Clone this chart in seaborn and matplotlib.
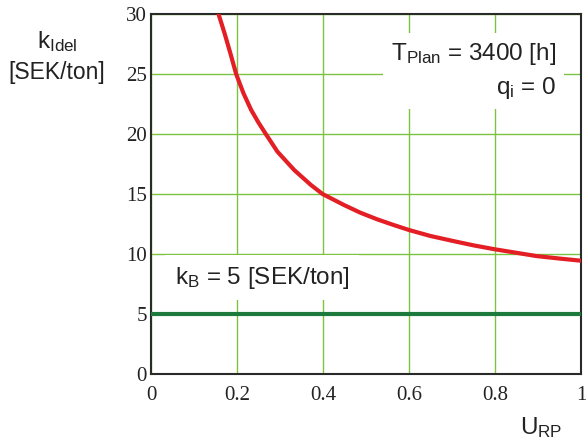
import matplotlib
matplotlib.use('Agg')
import matplotlib.pyplot as plt
import seaborn as sns
import pandas as pd

# ---------- data ----------
u_rp = [0.157, 0.171, 0.184, 0.198, 0.215, 0.233, 0.25, 0.267, 0.294, 0.333,
        0.372, 0.399, 0.449, 0.487, 0.526, 0.564, 0.6, 0.65, 0.703, 0.75,
        0.8, 0.85, 0.896, 0.95, 1.0]
k_idel = [30.0, 28.4, 26.8, 25.0, 23.4, 22.0, 20.95, 20.0, 18.53, 17.0,
          15.75, 15.0, 14.08, 13.44, 12.89, 12.42, 12.0, 11.5, 11.08, 10.72,
          10.39, 10.1, 9.83, 9.62, 9.44]
u_base = [0.0, 1.0]
k_base = [5.0, 5.0]

x_ticks = [0, 0.2, 0.4, 0.6, 0.8, 1]
x_ticklabels = ['0', '0.2', '0.4', '0.6', '0.8', '1']
y_ticks = [0, 5, 10, 15, 20, 25, 30]

sns.set_style('white')
plt.rcParams['font.family'] = ['Liberation Sans', 'DejaVu Sans']
plt.rcParams['mathtext.fontset'] = 'custom'
plt.rcParams['mathtext.rm'] = 'Liberation Sans'
plt.rcParams['mathtext.it'] = 'Liberation Sans:italic'

df_curve = pd.DataFrame({'U': u_rp, 'k': k_idel})
df_base = pd.DataFrame({'U': u_base, 'k': k_base})

fig = plt.figure(figsize=(5.86, 4.45), dpi=100)
ax = fig.add_axes([151 / 586, 1 - 374 / 445, 430 / 586, 360 / 445])

sns.lineplot(data=df_base, x='U', y='k', color='#1b7a3c', linewidth=3.0, ax=ax, zorder=4)
sns.lineplot(data=df_curve, x='U', y='k', color='#e31e24', linewidth=3.0, ax=ax, zorder=5)

ax.set_xlim(0, 1)
ax.set_ylim(0, 30)
ax.set_xticks(x_ticks)
ax.set_xticklabels(x_ticklabels)
ax.set_yticks(y_ticks)
ax.grid(True, color='#7dc242', linewidth=1.0)
ax.set_axisbelow(True)
ax.set_xlabel('')
ax.set_ylabel('')

for lab in ax.get_xticklabels() + ax.get_yticklabels():
    lab.set_fontfamily('Liberation Serif')
    lab.set_fontsize(15)
    lab.set_color('#222222')
ax.tick_params(axis='x', length=0, pad=9)
ax.tick_params(axis='y', length=0, pad=3)

for sp in ax.spines.values():
    sp.set_color('#2a2a2a')
    sp.set_linewidth(1.5)

# annotations with white backing (they cut the grid)
ax.text(0.942, 0.842, 'T$_{\\mathrm{Plan}}$ = 3400 [h]\nq$_{\\mathrm{i}}$ = 0',
        transform=ax.transAxes, ha='right', va='center', multialignment='right',
        fontsize=17.5, color='#222222', linespacing=1.4, zorder=3,
        bbox=dict(facecolor='white', edgecolor='none', pad=6))
ax.text(0.055, 0.268, 'k$_{\\mathrm{B}}$ = 5 [SEK/ton]',
        transform=ax.transAxes, ha='left', va='center',
        fontsize=17.5, color='#222222', zorder=3,
        bbox=dict(facecolor='white', edgecolor='none', pad=7))

# axis titles placed like the original
fig.text(57 / 586, 1 - 42 / 445, 'k$_{\\mathrm{Idel}}$', ha='center', va='center',
         fontsize=17.5, color='#222222')
fig.text(57 / 586, 1 - 72 / 445, '[SEK/ton]', ha='center', va='center',
         fontsize=16.5, color='#222222')
fig.text(520 / 586, 1 - 428 / 445, 'U$_{\\mathrm{RP}}$', ha='left', va='center',
         fontsize=17.5, color='#222222')

fig.savefig('out.png', dpi=100)
